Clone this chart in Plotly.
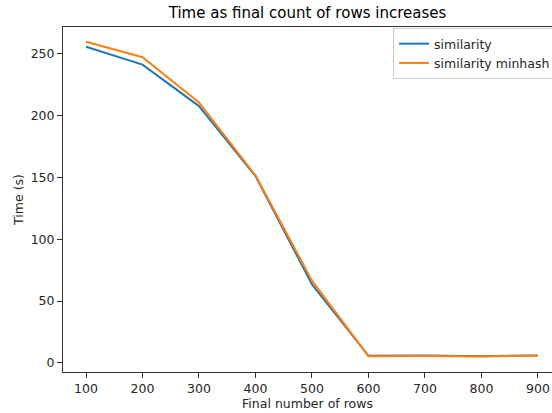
import plotly.graph_objects as go

# Final number of rows vs. elapsed time for the two similarity methods
rows = [100, 200, 300, 400, 500, 600, 700, 800, 900]
time_similarity = [255.5, 241.0, 207.5, 151.0, 63.5, 5.8, 6.0, 5.5, 6.0]
time_minhash = [259.5, 247.0, 210.5, 151.5, 66.5, 5.5, 5.6, 5.3, 5.8]

x_ticks = [100, 200, 300, 400, 500, 600, 700, 800, 900]
y_ticks = [0, 50, 100, 150, 200, 250]

FONT = "DejaVu Sans"
TEXT = "#262626"

fig = go.Figure()
fig.add_trace(go.Scatter(x=rows, y=time_similarity, mode="lines", name="similarity",
                         line=dict(color="#1f77b4", width=2)))
fig.add_trace(go.Scatter(x=rows, y=time_minhash, mode="lines", name="similarity minhash",
                         line=dict(color="#ff7f0e", width=2)))

axis_common = dict(
    showgrid=False, zeroline=False, showline=True, linecolor="#333333", linewidth=1,
    ticks="outside", ticklen=5, tickwidth=1, tickcolor="#333333",
    tickfont=dict(family=FONT, size=12.5, color=TEXT), automargin=False,
)

fig.update_layout(
    width=552, height=413,
    margin=dict(l=63, r=0, t=27, b=41, autoexpand=False),
    plot_bgcolor="white", paper_bgcolor="white",
    title=dict(text="Time as final count of rows increases", x=0.5, xref="paper",
               y=0.968, yanchor="middle",
               font=dict(family=FONT, size=15, color="black")),
    xaxis=dict(range=[59.3, 924.8], tickvals=x_ticks, mirror=True,
               title=dict(text="Final number of rows", standoff=4,
                          font=dict(family=FONT, size=12.5, color=TEXT)),
               **axis_common),
    yaxis=dict(range=[-7.3, 271.4], tickvals=y_ticks,
               title=dict(text="Time (s)", standoff=4,
                          font=dict(family=FONT, size=12.5, color=TEXT)),
               **axis_common),
    legend=dict(x=0.675, y=0.997, xanchor="left", yanchor="top",
                bgcolor="rgba(255,255,255,0.8)", bordercolor="#cccccc", borderwidth=1,
                font=dict(family=FONT, size=12.5, color=TEXT),
                itemwidth=30, tracegroupgap=0),
    showlegend=True,
)

fig.write_html("out.html")
